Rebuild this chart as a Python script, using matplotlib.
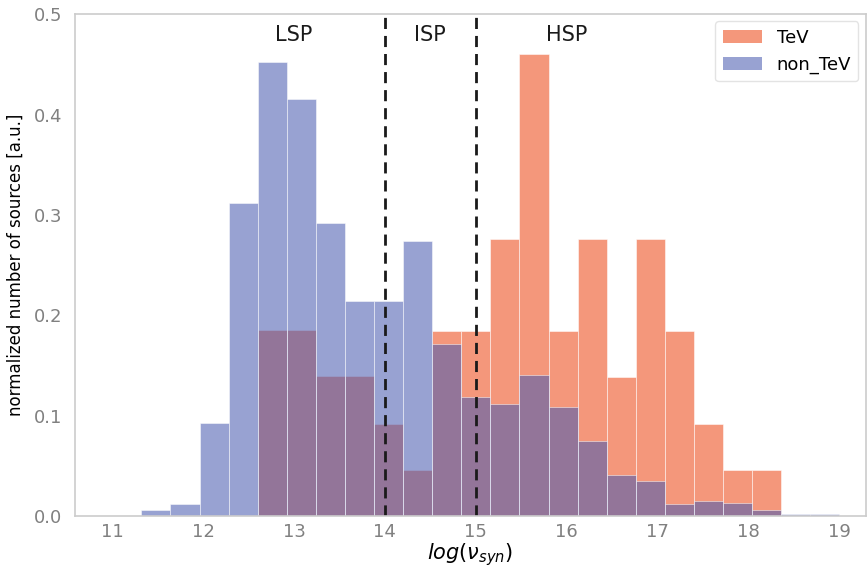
import numpy as np
import matplotlib.pyplot as plt

# bin edges of log(nu_syn), common to both samples
bin_edges = np.round(np.linspace(11.32, 19.0, 25), 2)

# normalized histogram heights (density)
non_tev = [0.006, 0.012, 0.093, 0.312, 0.452, 0.415, 0.292, 0.214, 0.214, 0.274,
           0.171, 0.119, 0.112, 0.140, 0.109, 0.075, 0.041, 0.035, 0.012, 0.015,
           0.013, 0.006, 0.002, 0.002]
tev_first_bin = 4
tev = [0.185, 0.185, 0.139, 0.139, 0.092, 0.046, 0.184, 0.184, 0.276, 0.460,
       0.184, 0.276, 0.138, 0.276, 0.184, 0.092, 0.046, 0.046]

class_edges = [14, 15]
class_names = ['LSP', 'ISP', 'HSP']
class_pos = [13.0, 14.5, 16.0]

tev_color = '#ee5224'
non_tev_color = '#4a5cb0'

fig = plt.figure(figsize=(8.67, 5.67), dpi=100)
ax = fig.add_axes([0.0865, 0.09, 0.912, 0.885])

tev_edges = bin_edges[tev_first_bin:tev_first_bin + len(tev) + 1]
ax.hist(tev_edges[:-1], bins=tev_edges, weights=tev, color=tev_color,
        alpha=0.6, edgecolor='white', linewidth=0.6, label='TeV')
ax.hist(bin_edges[:-1], bins=bin_edges, weights=non_tev, color=non_tev_color,
        alpha=0.57, edgecolor='white', linewidth=0.6, label='non_TeV')

for xv in class_edges:
    ax.axvline(xv, color='#1a1a1a', linestyle='--', linewidth=2, dashes=(4, 2.5))
for name, xp in zip(class_names, class_pos):
    ax.text(xp, 0.479, name, ha='center', va='center', fontsize=15, color='#1a1a1a')

ax.set_xlim(10.59, 19.29)
ax.set_ylim(0, 0.5)
ax.set_xticks(range(11, 20))
ax.set_yticks([0, 0.1, 0.2, 0.3, 0.4, 0.5])
ax.set_yticklabels(['0.0', '0.1', '0.2', '0.3', '0.4', '0.5'])
ax.tick_params(axis='both', length=0, labelsize=13, labelcolor='#808080')
ax.tick_params(axis='x', pad=5)
ax.tick_params(axis='y', pad=9)
for s in ax.spines.values():
    s.set_color('#cccccc')
    s.set_linewidth(1.2)

ax.set_xlabel(r'$log(\nu_{syn})$', fontsize=15, labelpad=0)
ax.set_ylabel('normalized number of sources [a.u.]', fontsize=12, labelpad=7)

leg = ax.legend(loc='upper right', fontsize=13, frameon=True, borderaxespad=0.4,
                handlelength=2.2)
leg.get_frame().set_edgecolor('#dddddd')
for h in leg.legend_handles:
    h.set_edgecolor('none')

fig.savefig('out.png', dpi=100)
